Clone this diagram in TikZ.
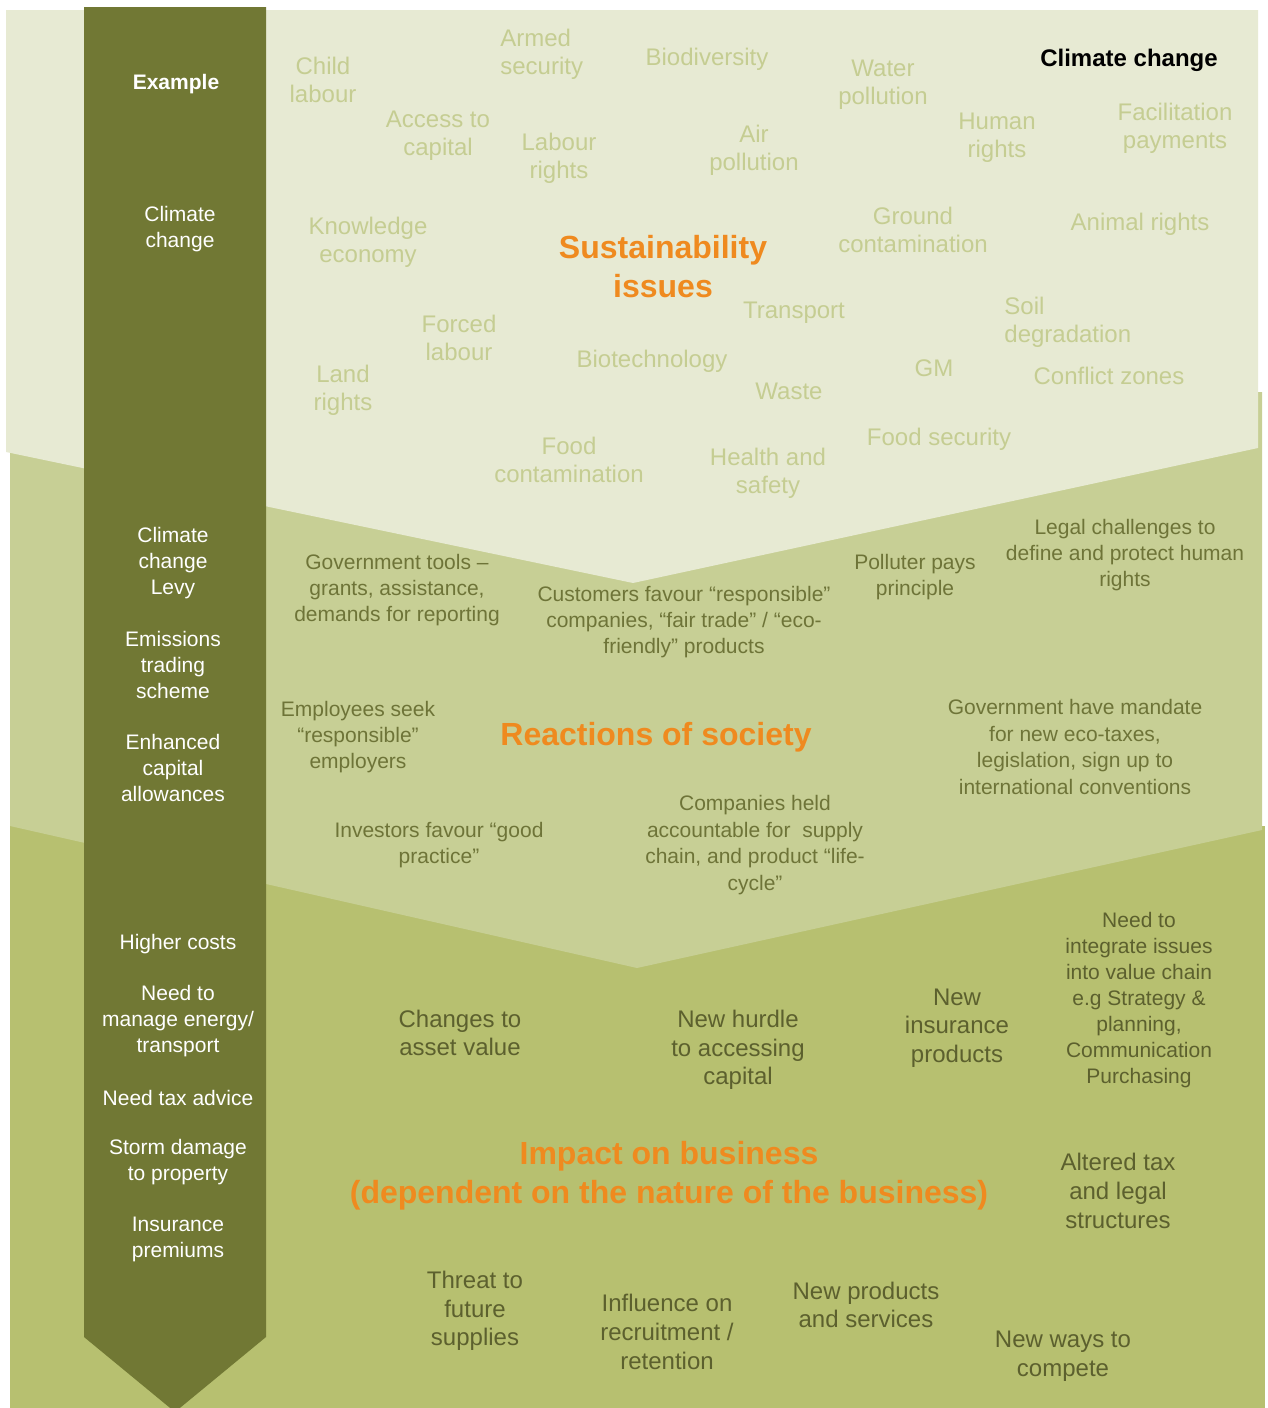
\documentclass[tikz,border=0pt]{standalone}
\usepackage{fontspec}
\setmainfont{Liberation Sans}
\definecolor{paleband}{HTML}{E7EAD3}
\definecolor{midband}{HTML}{C7CF95}
\definecolor{lowband}{HTML}{B7C070}
\definecolor{olive}{HTML}{717834}
\definecolor{paletext}{HTML}{C5CD92}
\definecolor{midtext}{HTML}{6E7438}
\definecolor{lowtext}{HTML}{5C602E}
\definecolor{orng}{HTML}{EF8A1F}

\begin{document}
\begin{tikzpicture}[x=0.5pt,y=-0.5pt,
    every node/.style={inner sep=0pt,align=center},
    issue/.style={text=paletext,font=\fontsize{12}{14}\selectfont},
    reaction/.style={text=midtext,font=\fontsize{10.5}{13.2}\selectfont},
    impact/.style={text=lowtext,font=\fontsize{12}{14.3}\selectfont},
    impactsm/.style={text=lowtext,font=\fontsize{10.5}{13}\selectfont},
    example/.style={text=white,font=\fontsize{10.5}{13}\selectfont},
    heading/.style={text=orng,font=\bfseries\fontsize{16}{19.5}\selectfont}]
  \useasboundingbox (0,0) rectangle (1268,1408);

  % three chevron bands, back to front
  \fill[lowband] (10,826) -- (1265,826) -- (1265,1408) -- (10,1408) -- cycle;
  \fill[midband] (10,392) -- (1262,392) -- (1262,830) -- (637,968) -- (10,826) -- cycle;
  \fill[paleband] (6,10) -- (1258,10) -- (1258,448) -- (633,583) -- (6,452) -- cycle;
  % down arrow on the left
  \fill[olive] (84,7) -- (266,7) -- (266,1337) -- (175,1412) -- (84,1337) -- cycle;

  % sustainability issues
  \node[issue] (child) at (323,80) {Child\\labour};
  \node[issue,align=left,anchor=west] (armed) at (500,54) {Armed\\security};
  \node[issue] (biodiv) at (707,59) {Biodiversity};
  \node[issue] (water) at (883,85) {Water\\pollution};
  \node[issue] (human) at (997,138) {Human\\rights};
  \node[issue] (facil) at (1175,128) {Facilitation\\payments};
  \node[issue] (access) at (438,136) {Access to\\capital};
  \node[issue] (labour) at (559,158) {Labour\\rights};
  \node[issue] (air) at (754,150) {Air\\pollution};
  \node[issue] (knowl) at (368,242) {Knowledge\\economy};
  \node[issue] (ground) at (913,230) {Ground\\contamination};
  \node[issue] (animal) at (1140,224) {Animal rights};
  \node[issue] (forced) at (459,338) {Forced\\labour};
  \node[issue] (transp) at (794,313) {Transport};
  \node[issue,align=left,anchor=west] (soil) at (1004,322) {Soil\\degradation};
  \node[issue] (land) at (343,390) {Land\\rights};
  \node[issue] (biotech) at (652,361) {Biotechnology};
  \node[issue] (waste) at (789,391) {Waste};
  \node[issue] (gm) at (934,368) {GM};
  \node[issue] (conflict) at (1109,376) {Conflict zones};
  \node[issue] (foodcont) at (569,460) {Food\\contamination};
  \node[issue] (health) at (768,473) {Health and\\safety};
  \node[issue] (foodsec) at (939,439) {Food security};
  \node[font=\bfseries\fontsize{12}{14}\selectfont] (cc) at (1129,60) {Climate change};
  \node[heading] (sust) at (663,267) {Sustainability\\issues};

  % reactions of society
  \node[reaction] (govtools) at (397,590) {Government tools --\\grants, assistance,\\demands for reporting};
  \node[reaction] (customers) at (684,622) {Customers favour “responsible”\\companies, “fair trade” / “eco-\\friendly” products};
  \node[reaction] (polluter) at (915,577) {Polluter pays\\principle};
  \node[reaction] (legal) at (1125,555) {Legal challenges to\\define and protect human\\rights};
  \node[reaction] (employees) at (358,737) {Employees seek\\“responsible”\\employers};
  \node[reaction] (mandate) at (1075,747) {Government have mandate\\for new eco-taxes,\\legislation, sign up to\\international conventions};
  \node[reaction] (investors) at (439,845) {Investors favour “good\\practice”};
  \node[reaction] (companies) at (755,845) {Companies held\\accountable for\ \ supply\\chain, and product “life-\\cycle”};
  \node[heading] (react) at (656,737) {Reactions of society};

  % impact on business
  \node[impact] (asset) at (460,1033) {Changes to\\asset value};
  \node[impact] (hurdle) at (738,1050) {New hurdle\\to accessing\\capital};
  \node[impact] (insur) at (957,1028) {New\\insurance\\products};
  \node[impactsm] (integ) at (1139,1000) {Need to\\integrate issues\\into value chain\\e.g Strategy \&\\planning,\\Communication\\Purchasing};
  \node[impact] (altered) at (1118,1191) {Altered tax\\and legal\\structures};
  \node[impact] (threat) at (475,1311) {Threat to\\future\\supplies};
  \node[impact] (influence) at (667,1332) {Influence on\\recruitment /\\retention};
  \node[impact] (newprod) at (866,1305) {New products\\and services};
  \node[impact] (newways) at (1063,1356) {New ways to\\compete};
  \node[heading] (impt) at (669,1176) {Impact on business\\(dependent on the nature of the business)};

  % examples down the arrow
  \node[example,font=\bfseries\fontsize{10.5}{13}\selectfont] (ex) at (176,84) {Example};
  \node[example] (ex1) at (180,229) {Climate\\change};
  \node[example] (ex2) at (173,563) {Climate\\change\\Levy};
  \node[example] (ex3) at (173,665) {Emissions\\trading\\scheme};
  \node[example] (ex4) at (173,768) {Enhanced\\capital\\allowances};
  \node[example] (ex5) at (178,944) {Higher costs};
  \node[example] (ex6) at (178,1021) {Need to\\manage energy/\\transport};
  \node[example] (ex7) at (178,1098) {Need tax advice};
  \node[example] (ex8) at (178,1162) {Storm damage\\to property};
  \node[example] (ex9) at (178,1239) {Insurance\\premiums};
\end{tikzpicture}
\end{document}
